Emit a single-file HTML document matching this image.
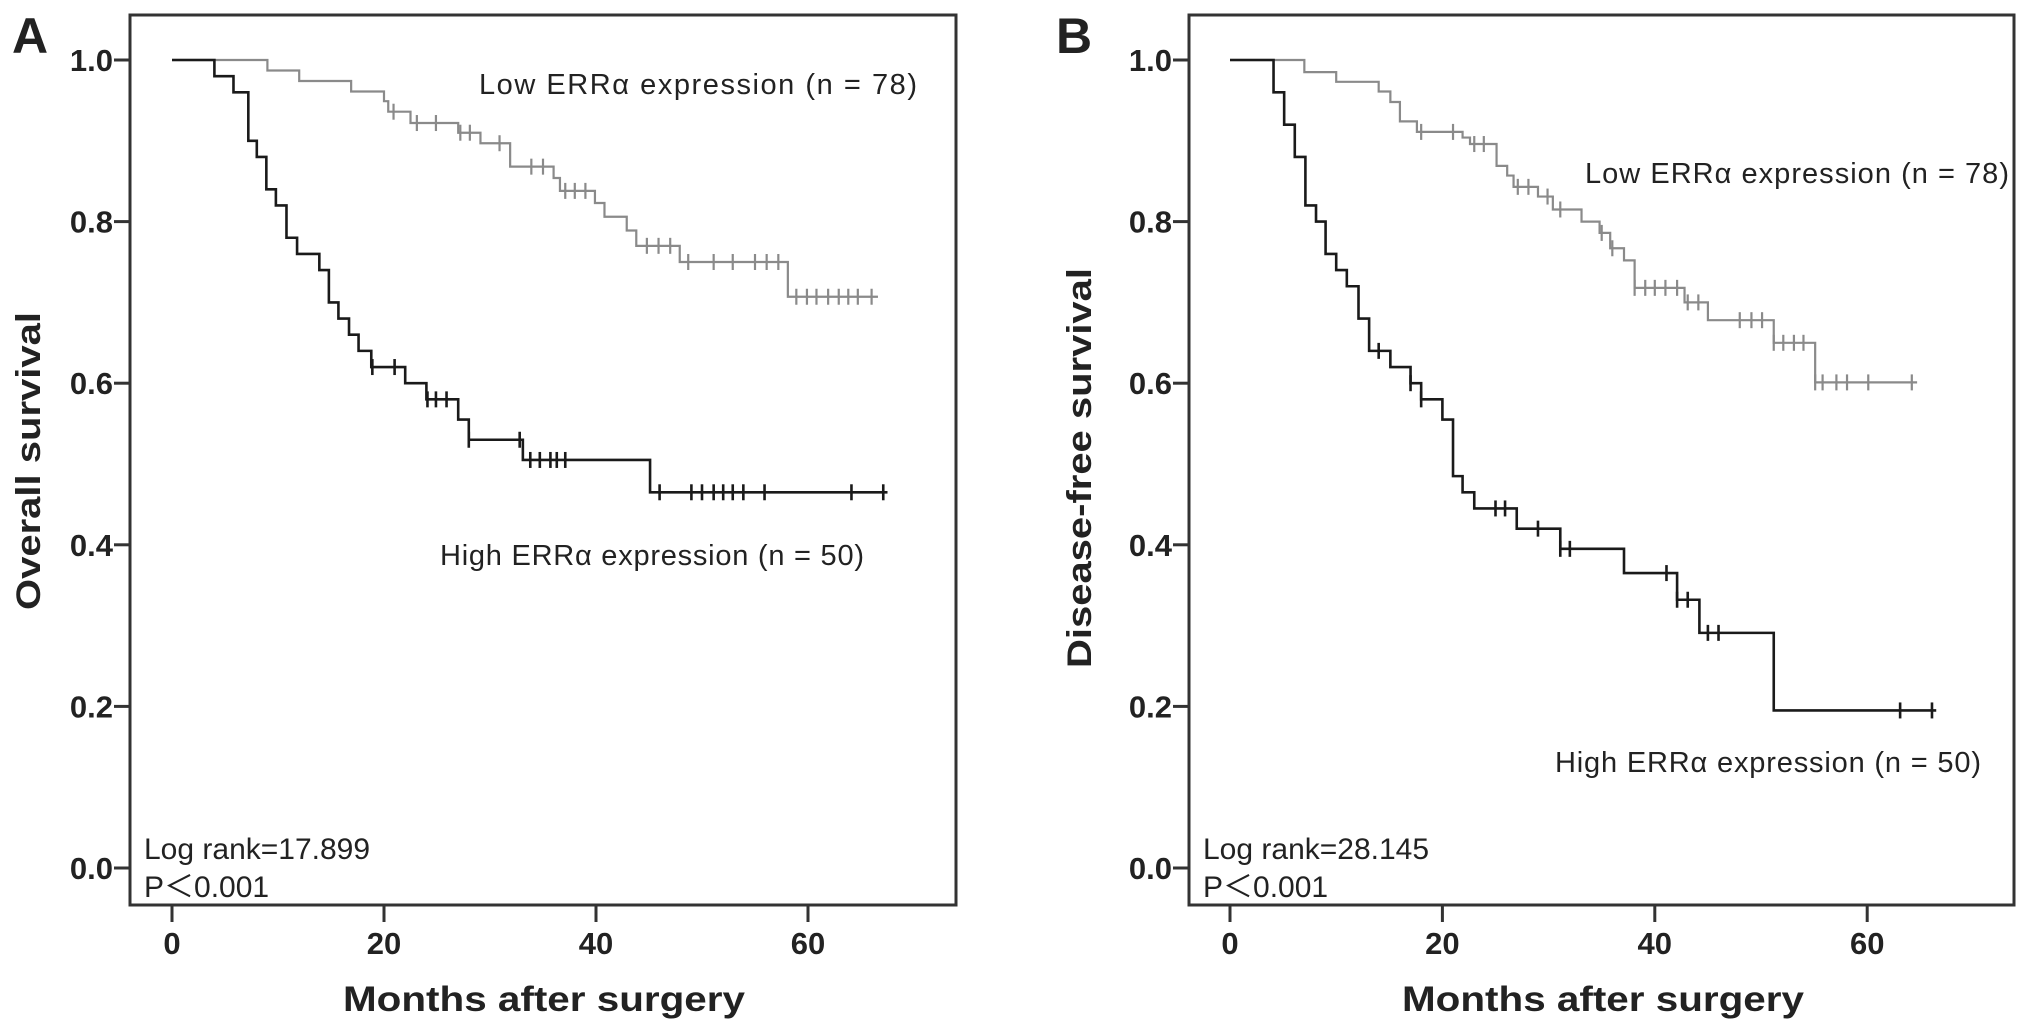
<!DOCTYPE html>
<html><head><meta charset="utf-8"><style>
html,body{margin:0;padding:0;background:#fff;}
svg{display:block;}
</style></head><body>
<svg id="chart" width="2031" height="1036" viewBox="0 0 2031 1036" xmlns="http://www.w3.org/2000/svg" font-family="Liberation Sans, sans-serif">
<rect width="2031" height="1036" fill="#fff"/>
<g id="root"></g>
</svg>
<script>
// Panel A (overall survival)
const aHighTimes = [0,4.0,5.8,7.2,8.0,8.9,9.8,10.8,11.8,13.9,14.8,15.7,16.7,17.6,18.8,22.0,24.0,27.0,28.0,33.1,45.1];
const aHighSurv  = [1,0.98,0.96,0.90,0.88,0.84,0.82,0.78,0.76,0.74,0.70,0.68,0.66,0.64,0.62,0.60,0.58,0.555,0.53,0.505,0.465];
const aHighCensor = [18.9,21.0,24.1,24.9,25.9,28.0,32.8,33.8,34.7,35.7,36.3,37.1,46.0,49.0,50.0,51.1,52.0,52.9,53.9,55.9,64.1,67.1];
const aHighEnd = 67.5;
const aLowTimes = [0,9.0,12.0,16.9,20.0,20.4,22.5,27.0,29.1,31.9,36.0,36.6,39.9,40.8,42.9,43.8,47.9,58.1];
const aLowSurv  = [1,0.987,0.974,0.961,0.949,0.936,0.922,0.91,0.897,0.868,0.854,0.838,0.823,0.806,0.789,0.77,0.75,0.707];
const aLowCensor = [20.9,23.1,24.9,27.2,28.1,30.9,33.9,35.0,37.1,38.0,39.0,44.8,45.9,47.0,48.7,51.1,52.9,55.0,56.1,57.2,58.9,59.9,60.8,61.9,62.9,63.8,64.7,66.0];
const aLowEnd = 66.6;
// Panel B (disease-free survival)
const bHighTimes = [0,4.1,5.1,6.1,7.1,8.1,9.0,10.0,11.0,12.1,13.1,15.1,17.0,18.0,20.0,21.0,21.9,23.0,27.0,31.1,37.1,42.1,44.2,51.2];
const bHighSurv  = [1,0.96,0.92,0.88,0.82,0.80,0.76,0.74,0.72,0.68,0.64,0.62,0.60,0.58,0.555,0.485,0.465,0.445,0.42,0.395,0.365,0.332,0.291,0.195];
const bHighCensor = [14.0,17.0,18.0,25.0,25.9,29.0,31.1,32.0,41.1,42.1,43.1,45.0,46.0,63.1,66.1];
const bHighEnd = 66.5;
const bLowTimes = [0,7.0,10.0,14.0,15.1,16.0,17.6,21.9,22.6,25.1,26.1,26.7,29.0,30.4,33.1,34.8,35.8,37.1,38.1,42.8,45.0,51.2,55.1];
const bLowSurv  = [1,0.985,0.973,0.961,0.948,0.924,0.911,0.904,0.896,0.869,0.857,0.843,0.831,0.815,0.80,0.786,0.767,0.752,0.718,0.70,0.678,0.65,0.601];
const bLowCensor = [18.0,21.0,23.0,23.9,27.1,28.1,29.9,31.1,35.0,36.0,38.1,39.1,40.0,41.0,42.1,43.1,44.1,48.0,49.1,50.1,51.2,52.1,53.1,54.0,55.1,55.8,57.1,58.1,60.1,64.2];
const bLowEnd = 64.7;
const xTickLabels = ["0","20","40","60"];
const xTickValues = [0,20,40,60];
const yTickLabels = ["0.0","0.2","0.4","0.6","0.8","1.0"];
const yTickValues = [0,0.2,0.4,0.6,0.8,1.0];

const NS = "http://www.w3.org/2000/svg";
const root = document.getElementById("root");
function mk(tag, attrs, parent) {
  const e = document.createElementNS(NS, tag);
  for (const k in attrs) e.setAttribute(k, attrs[k]);
  (parent || root).appendChild(e);
  return e;
}
function yScale(s) { return 868 - s * 808; }

function panel(p) {
  const g = mk("g", {});
  
  
  const xs = t => p.x0 + t * p.ppm;
  const fr = mk("rect", {x:p.left, y:15, width:p.right-p.left, height:905-15, fill:"none", stroke:"#333", "stroke-width":3}, g);
  
  
  yTickValues.forEach((v,i) => {
    const y = yScale(v);
    const t = mk("line", {x1:p.left-16, x2:p.left, y1:y, y2:y, stroke:"#333", "stroke-width":3}, g);
    
    
    const l = mk("text", {x:p.left-17, y:y+11, "text-anchor":"end", "font-size":31, "font-weight":"bold", fill:"#222"}, g);
    l.textContent = yTickLabels[i];
    
    
  });
  xTickValues.forEach((v,i) => {
    const x = xs(v);
    const t = mk("line", {x1:x, x2:x, y1:905, y2:922, stroke:"#333", "stroke-width":3}, g);
    
    
    const l = mk("text", {x:x, y:954, "text-anchor":"middle", "font-size":31, "font-weight":"bold", fill:"#222"}, g);
    l.textContent = xTickLabels[i];
    
    
  });
  function curve(times, surv, cens, end, color, w, name) {
    let d = "M" + xs(times[0]) + "," + yScale(surv[0]);
    for (let i = 1; i < times.length; i++) {
      d += " H" + xs(times[i]) + " V" + yScale(surv[i]);
    }
    d += " H" + xs(end);
    const path = mk("path", {d:d, fill:"none", stroke:color, "stroke-width":w}, g);
    
    
    cens.forEach(c => {
      let s = surv[0];
      for (let i = 0; i < times.length; i++) if (times[i] <= c) s = surv[i];
      const x = xs(c), y = yScale(s);
      const m = mk("line", {x1:x, x2:x, y1:y-8, y2:y+8, stroke:color, "stroke-width":w}, g);
      
      
    });
  }
  curve(p.lowT, p.lowS, p.lowC, p.lowE, "#8a8a8a", 2.2, "low-erra");
  curve(p.highT, p.highS, p.highC, p.highE, "#1a1a1a", 2.6, "high-erra");
  function txt(s, x, y, size, name, extra) {
    const t = mk("text", Object.assign({x:x, y:y, "font-size":size, fill:"#222"}, extra || {}), g);
    t.textContent = s;
    
    
    return t;
  }
  txt("Low ERR\u03b1 expression (n = 78)", p.lowLbl[0], p.lowLbl[1], 29, "low-erra-label", {textLength:p.lowLen});
  txt("High ERR\u03b1 expression (n = 50)", p.highLbl[0], p.highLbl[1], 29, "high-erra-label", {textLength:p.highLen});
  txt(p.logrank, p.left+14, 859, 30, "log-rank-text");
  txt("P\uFF1C0.001", p.left+14, 897, 30, "p-value-text");
  txt(p.letter, p.letterX, 53, 50, "panel-letter", {"font-weight":"bold"});
  txt("Months after surgery", p.xTitleC, 1011, 35, "x-axis-title", {"text-anchor":"middle", "font-weight":"bold", textLength:402, lengthAdjust:"spacingAndGlyphs"});
  txt(p.yTitle, 0, 0, 34, "y-axis-title", {"text-anchor":"middle", "font-weight":"bold", textLength:p.yTitleLen, lengthAdjust:"spacingAndGlyphs",
     transform:"translate(" + p.yTitleX + "," + p.yTitleY + ") rotate(-90)"});
}

panel({name:"panel-a-overall-survival", left:130, right:956, x0:172, ppm:10.6,
  lowT:aLowTimes, lowS:aLowSurv, lowC:aLowCensor, lowE:aLowEnd,
  highT:aHighTimes, highS:aHighSurv, highC:aHighCensor, highE:aHighEnd,
  lowLbl:[479,94], lowLen:438, highLbl:[440,565], highLen:424, logrank:"Log rank=17.899", letter:"A", letterX:12,
  xTitleC:544, yTitle:"Overall survival", yTitleLen:298, yTitleX:40, yTitleY:461});
panel({name:"panel-b-disease-free-survival", left:1189, right:2014, x0:1230, ppm:10.62,
  lowT:bLowTimes, lowS:bLowSurv, lowC:bLowCensor, lowE:bLowEnd,
  highT:bHighTimes, highS:bHighSurv, highC:bHighCensor, highE:bHighEnd,
  lowLbl:[1585,183], lowLen:424, highLbl:[1555,772], highLen:426, logrank:"Log rank=28.145", letter:"B", letterX:1056,
  xTitleC:1603, yTitle:"Disease-free survival", yTitleLen:400, yTitleX:1091, yTitleY:468});
</script>
</body></html>
